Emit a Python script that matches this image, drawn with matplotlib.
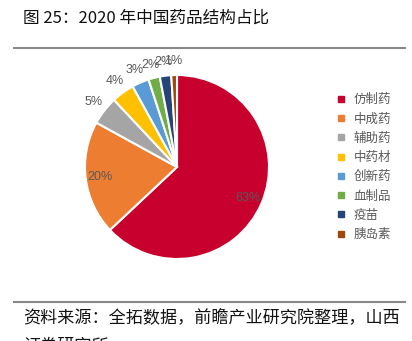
import matplotlib
matplotlib.use("Agg")
import matplotlib.pyplot as plt
from matplotlib.lines import Line2D
import numpy as np

plt.rcParams['font.family'] = ['Noto Sans CJK SC', 'DejaVu Sans']

# 数据
categories = ['仿制药', '中成药', '辅助药', '中药材', '创新药', '血制品', '疫苗', '胰岛素']
shares = [63, 20, 5, 4, 3, 2, 2, 1]
colors = ['#C8002E', '#ED7D31', '#A5A5A5', '#FFC000', '#5B9BD5', '#70AD47', '#264478', '#9E480E']

title = '图 25：2020 年中国药品结构占比'
source = '资料来源：全拓数据，前瞻产业研究院整理，山西'
source2 = '证券研究所'

W, H = 412, 341
fig = plt.figure(figsize=(W / 100, H / 100), dpi=100)

# 标题和分隔线
fig.text(23 / W, 1 - 18 / H, title, fontsize=12, va='center', ha='left', color='#111111')
fig.add_artist(Line2D([14 / W, 405 / W], [1 - 48 / H, 1 - 48 / H], color='#888888', lw=1.5))
fig.add_artist(Line2D([14 / W, 405 / W], [1 - 302 / H, 1 - 302 / H], color='#888888', lw=1.5))
fig.text(23 / W, 1 - 318 / H, source, fontsize=12.3, va='center', ha='left', color='#111111')
fig.text(23 / W, 1 - 346 / H, source2, fontsize=12.3, va='center', ha='left', color='#111111')

# 饼图
cx, cy, r = 177, 167, 92
ax = fig.add_axes([(cx - r) / W, (H - cy - r) / H, 2 * r / W, 2 * r / H])
wedges, texts = ax.pie(shares, colors=colors, startangle=90, counterclock=False,
                       wedgeprops=dict(edgecolor='white', linewidth=1.5))
ax.set_xlim(-1, 1)
ax.set_ylim(-1, 1)
ax.set_aspect('auto')
ax.axis('off')

for w, v in zip(wedges, shares):
    ang = np.deg2rad((w.theta1 + w.theta2) / 2)
    d = 0.84 if v >= 10 else 1.15
    ax.text(d * np.cos(ang), d * np.sin(ang), f'{v}%', ha='center', va='center',
            fontsize=9, color='#595959', family=['Liberation Sans', 'DejaVu Sans'])

# 图例
handles = [Line2D([], [], marker='s', linestyle='none', markersize=5,
                  markerfacecolor=c, markeredgecolor=c) for c in colors]
leg = fig.legend(handles, categories, loc='upper left', bbox_to_anchor=(325 / W, 1 - 82 / H),
                 frameon=False, fontsize=9, labelspacing=0.5, handlelength=0.8,
                 handletextpad=0.6)
for t in leg.get_texts():
    t.set_color('#595959')

fig.savefig('out.png', dpi=100)
